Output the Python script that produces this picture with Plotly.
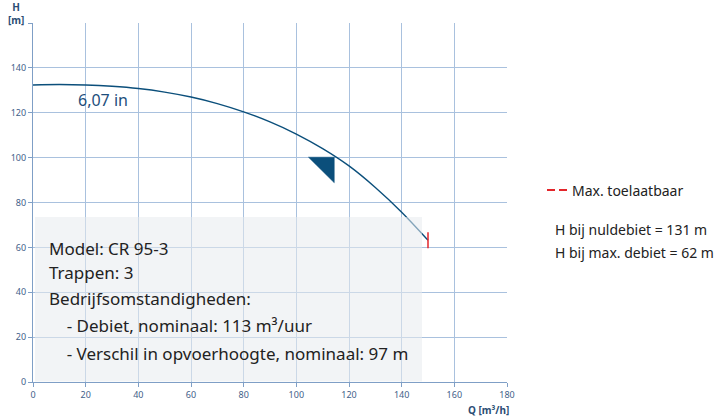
import plotly.graph_objects as go

# ---- data ----
flow_q = [0, 10, 20, 30, 40, 50, 60, 70, 80, 90, 100, 110, 120, 130, 140, 150]
head_h = [132.4, 132.6, 132.4, 131.8, 130.8, 129.2, 127.0, 124.1, 120.4, 115.9,
          110.5, 104.0, 96.3, 86.7, 75.7, 63.2]
duty_q = [104.6, 114.4, 114.4, 104.6]
duty_h = [100.2, 100.2, 88.8, 100.2]
max_q = [150, 150]
max_h = [59.6, 66.7]
x_ticks = [0, 20, 40, 60, 80, 100, 120, 140, 160, 180]
y_ticks = [0, 20, 40, 60, 80, 100, 120, 140, 160]
y_ticktext = ["0", "20", "40", "60", "80", "100", "120", "140", ""]
curve_label = "6,07 in"
info_lines = ["Model: CR 95-3", "Trappen: 3", "Bedrijfsomstandigheden:",
              "    - Debiet, nominaal: 113 m³/uur",
              "    - Verschil in opvoerhoogte, nominaal: 97 m"]
legend_text = "Max. toelaatbaar"
side_lines = ["H bij nuldebiet = 131 m", "H bij max. debiet = 62 m"]

FONT = "Noto Sans"
GRID = "#a9c1de"
AXIS = "#7f9fc6"
TICKC = "#3f6189"
DARK = "#0b4f7b"

# plot area pixel geometry
L, R, T, B = 33, 507, 23, 382
W, H = 723, 419


def px_x(p):
    return (p - L) / (R - L)


def px_y(p):
    return (B - p) / (B - T)


fig = go.Figure()
fig.add_trace(go.Scatter(x=flow_q, y=head_h, mode="lines",
                         line=dict(color=DARK, width=1.4, shape="spline", smoothing=1.0),
                         showlegend=False, hoverinfo="skip"))
fig.add_trace(go.Scatter(x=duty_q, y=duty_h, mode="lines", fill="toself",
                         fillcolor=DARK, line=dict(color=DARK, width=0.5),
                         showlegend=False, hoverinfo="skip"))
fig.add_trace(go.Scatter(x=max_q, y=max_h, mode="lines",
                         line=dict(color="#e3262b", width=1.5),
                         showlegend=False, hoverinfo="skip"))

# translucent info box above the curve
fig.add_shape(type="rect", xref="paper", yref="paper",
              x0=px_x(35), x1=px_x(422), y0=px_y(381.5), y1=px_y(217),
              fillcolor="rgba(232,235,239,0.55)", line=dict(width=0), layer="above")

annots = []
annots.append(dict(x=16.4, y=125.6, xref="x", yref="y", text=curve_label,
                   showarrow=False, xanchor="left", yanchor="middle",
                   font=dict(family=FONT, size=16, color="#1d4e7c")))
line_y = [248, 272, 298, 325, 353]
for txt, py in zip(info_lines, line_y):
    annots.append(dict(x=px_x(47), y=px_y(py), xref="paper", yref="paper",
                       text=txt.replace("    ", "&nbsp;&nbsp;&nbsp;&nbsp;"),
                       showarrow=False, xanchor="left", yanchor="middle",
                       font=dict(family=FONT, size=17, color="#222222")))
annots.append(dict(x=px_x(570), y=px_y(190), xref="paper", yref="paper",
                   text=legend_text, showarrow=False, xanchor="left", yanchor="middle",
                   font=dict(family=FONT, size=14, color="#222222")))
for txt, py in zip(side_lines, [229, 252]):
    annots.append(dict(x=px_x(553), y=px_y(py), xref="paper", yref="paper",
                       text=txt, showarrow=False, xanchor="left", yanchor="middle",
                       font=dict(family=FONT, size=14, color="#222222")))
annots.append(dict(x=px_x(16), y=px_y(14), xref="paper", yref="paper",
                   text="<b>H<br>[m]</b>", showarrow=False, xanchor="center", yanchor="middle",
                   align="center",
                   font=dict(family=FONT, size=10, color="#2b4d74")))
annots.append(dict(x=px_x(511), y=px_y(410), xref="paper", yref="paper",
                   text="<b>Q [m³/h]</b>", showarrow=False, xanchor="right", yanchor="middle",
                   font=dict(family=FONT, size=10, color="#2b4d74")))

for x0, x1 in [(547, 555), (559, 567)]:
    fig.add_shape(type="line", xref="paper", yref="paper",
                  x0=px_x(x0), x1=px_x(x1), y0=px_y(190), y1=px_y(190),
                  line=dict(color="#e3262b", width=2))

fig.update_layout(
    width=W, height=H,
    margin=dict(l=L, r=W - R, t=T, b=H - B, autoexpand=False),
    paper_bgcolor="white", plot_bgcolor="white",
    annotations=annots,
    showlegend=False,
    xaxis=dict(range=[0, 180], tickvals=x_ticks, ticktext=[str(v) for v in x_ticks],
               showgrid=True, gridcolor=GRID, gridwidth=1, automargin=False,
               showline=True, linecolor=AXIS, linewidth=1.2, mirror=False,
               ticks="outside", ticklen=4, tickcolor=AXIS, zeroline=False,
               tickfont=dict(family=FONT, size=9, color=TICKC)),
    yaxis=dict(range=[0, 160], tickvals=y_ticks, ticktext=y_ticktext,
               showgrid=True, gridcolor=GRID, gridwidth=1, automargin=False,
               showline=True, linecolor=AXIS, linewidth=1.2, mirror=False,
               ticks="outside", ticklen=4, tickcolor=AXIS, zeroline=False,
               tickfont=dict(family=FONT, size=9, color=TICKC)),
)

fig.write_html("out.html", config={"displayModeBar": False},
               post_script="document.body.style.margin='0';document.body.style.overflow='hidden';")
